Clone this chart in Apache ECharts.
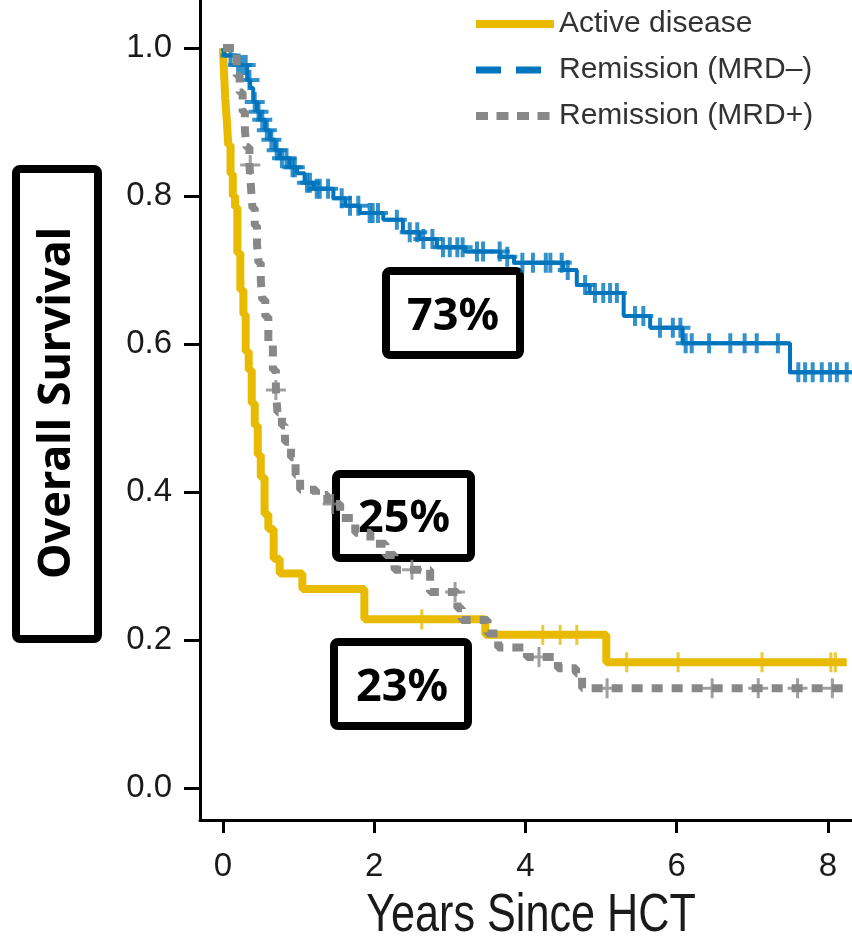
<!DOCTYPE html>
<html>
<head>
<meta charset="utf-8">
<title>Overall Survival by Disease Status</title>
<script src="https://cdn.jsdelivr.net/npm/echarts@6/dist/echarts.min.js"></script>
<style>
  html, body { margin: 0; padding: 0; background: #fff; }
  #chart { width: 852px; height: 943px; }
</style>
</head>
<body>
<div id="chart"></div>
<script>
// Kaplan–Meier step points: time (years) and survival at/after that time
const activeTimes = [0, 0.01, 0.03, 0.05, 0.07, 0.10, 0.13, 0.16, 0.19, 0.23, 0.27, 0.30, 0.34, 0.38, 0.42, 0.46, 0.50, 0.55, 0.60, 0.67, 0.75, 1.05, 1.87, 3.47, 5.07, 8.25];
const activeSurv  = [1.0, 0.975, 0.932, 0.903, 0.869, 0.83, 0.80, 0.785, 0.723, 0.673, 0.64, 0.59, 0.565, 0.52, 0.49, 0.45, 0.42, 0.37, 0.35, 0.31, 0.29, 0.269, 0.228, 0.207, 0.17, 0.17];
const activeCensor = [2.63, 4.23, 4.46, 4.68, 5.34, 6.02, 7.13, 8.04, 8.10];

const mrdNegTimes = [0, 0.02, 0.18, 0.32, 0.36, 0.40, 0.45, 0.49, 0.56, 0.62, 0.69, 0.75, 0.88, 0.98, 1.08, 1.20, 1.46, 1.62, 1.81, 2.12, 2.38, 2.60, 2.83, 3.20, 3.67, 3.85, 4.50, 4.68, 4.85, 5.30, 5.65, 6.08, 7.50, 8.32];
const mrdNegSurv  = [1.0, 0.99, 0.977, 0.957, 0.946, 0.927, 0.914, 0.903, 0.889, 0.876, 0.862, 0.851, 0.839, 0.831, 0.818, 0.81, 0.797, 0.787, 0.777, 0.768, 0.751, 0.742, 0.731, 0.725, 0.718, 0.71, 0.70, 0.68, 0.669, 0.638, 0.622, 0.601, 0.562, 0.562];
const mrdNegCensor = [0.10, 0.20, 0.25, 0.30, 0.35, 0.42, 0.47, 0.52, 0.58, 0.64, 0.71, 0.78, 0.84, 0.92, 0.95, 1.11, 1.15, 1.24, 1.28, 1.39, 1.57, 1.68, 1.79, 1.94, 1.98, 2.05, 2.30, 2.47, 2.57, 2.65, 2.77, 2.91, 3.00, 3.10, 3.17, 3.36, 3.44, 3.66, 3.76, 3.96, 4.10, 4.27, 4.33, 4.48, 4.56, 4.79, 4.92, 5.03, 5.12, 5.21, 5.45, 5.56, 5.78, 5.95, 6.05, 6.12, 6.20, 6.43, 6.71, 6.90, 7.06, 7.34, 7.61, 7.70, 7.80, 7.92, 8.03, 8.12, 8.25];

const mrdPosTimes = [0, 0.18, 0.22, 0.26, 0.29, 0.31, 0.35, 0.37, 0.39, 0.42, 0.45, 0.47, 0.50, 0.52, 0.56, 0.60, 0.66, 0.70, 0.72, 0.78, 0.82, 0.90, 0.96, 1.02, 1.23, 1.38, 1.55, 1.75, 1.95, 2.15, 2.27, 2.74, 3.10, 3.16, 3.50, 3.64, 4.02, 4.43, 4.67, 4.75, 8.20];
const mrdPosSurv  = [1.0, 0.963, 0.94, 0.914, 0.889, 0.866, 0.842, 0.812, 0.784, 0.76, 0.734, 0.71, 0.686, 0.66, 0.637, 0.60, 0.565, 0.538, 0.508, 0.49, 0.468, 0.447, 0.423, 0.403, 0.396, 0.384, 0.365, 0.345, 0.33, 0.315, 0.295, 0.265, 0.243, 0.227, 0.209, 0.19, 0.177, 0.162, 0.155, 0.135, 0.135];
const mrdPosCensor = [0.36, 0.70, 1.45, 2.50, 3.07, 4.18, 5.08, 6.47, 7.08, 7.60, 8.06];

const xTicks = [0, 2, 4, 6, 8];
const yTicks = [0, 0.2, 0.4, 0.6, 0.8, 1.0];

const seriesNames = ['Active disease', 'Remission (MRD\u2013)', 'Remission (MRD+)'];
const colors = ['#E8BB00', '#0075BE', '#888888'];
const boxLabels = ['73%', '25%', '23%'];
const xTitle = 'Years Since HCT';
const yTitle = 'Overall Survival';

function pairs(times, surv) {
  return times.map((t, i) => [t, surv[i]]);
}
// survival value of a step curve at time t
function survAt(times, surv, t) {
  let v = surv[0];
  for (let i = 0; i < times.length; i++) {
    if (times[i] <= t) v = surv[i]; else break;
  }
  return v;
}
function censorPoints(times, surv, cens) {
  return cens.map(t => [t, survAt(times, surv, t)]);
}

const plusThin = 'path://M8.5,0h3v20h-3zM0,8.5h20v3h-20z';
const plusBlue = 'path://M8,0h4v20h-4zM0,8h20v4h-20z';
const tickOnly = 'path://M0,0h3v20h-3z';

const chart = echarts.init(document.getElementById('chart'), null, { renderer: 'canvas' });

const axisFont = "'Liberation Sans', Arial, sans-serif";
const boldFont = "'Noto Sans', 'Open Sans', sans-serif";

function box(x, y, w, h, label, tx, ty) {
  return {
    type: 'group', z: 100,
    children: [
      { type: 'rect', shape: { x: x, y: y, width: w, height: h, r: 4 },
        style: { fill: '#fff', stroke: '#000', lineWidth: 8 } },
      { type: 'text', x: tx, y: ty,
        style: { text: label, fill: '#000', font: "bold 45px " + boldFont, textAlign: 'center', textVerticalAlign: 'middle' } }
    ]
  };
}

const hidden = { opacity: 0 };

const option = {
  animation: false,
  backgroundColor: '#fff',
  grid: { left: 200, right: 0, top: 0, bottom: 123, containLabel: false },
  legend: {
    orient: 'vertical', left: 472, top: 9, padding: 0,
    itemWidth: 78, itemHeight: 28, itemGap: 16,
    textStyle: { fontFamily: axisFont, fontSize: 30, color: '#333', lineHeight: 28 },
    data: [
      { name: seriesNames[0], itemStyle: hidden, lineStyle: { width: 8, type: 'solid', cap: 'butt' } },
      { name: seriesNames[1], itemStyle: hidden, lineStyle: { width: 7, type: [25, 15], cap: 'butt' } },
      { name: seriesNames[2], itemStyle: hidden, lineStyle: { width: 8, type: [12, 8.5], cap: 'butt' } }
    ]
  },
  xAxis: {
    type: 'value', min: -0.304, max: 8.32,
    axisLine: { show: true, onZero: false, lineStyle: { color: '#000', width: 3 } },
    axisTick: { show: true, customValues: xTicks, length: 13, lineStyle: { color: '#000', width: 3 } },
    axisLabel: { customValues: xTicks, fontFamily: axisFont, fontSize: 33, color: '#1a1a1a', margin: 30 },
    splitLine: { show: false }
  },
  yAxis: {
    type: 'value', min: -0.0432, max: 1.065,
    axisLine: { show: true, onZero: false, lineStyle: { color: '#000', width: 3 } },
    axisTick: { show: true, customValues: yTicks, length: 16, lineStyle: { color: '#000', width: 3 } },
    axisLabel: { customValues: yTicks, fontFamily: axisFont, fontSize: 33, color: '#1a1a1a', margin: 28,
                 formatter: v => v.toFixed(1) },
    splitLine: { show: false }
  },
  series: [
    { name: seriesNames[0], type: 'line', step: 'end', symbol: 'none', z: 2,
      data: pairs(activeTimes, activeSurv),
      lineStyle: { color: colors[0], width: 8, cap: 'butt' }, itemStyle: { color: colors[0] } },
    { name: seriesNames[1], type: 'line', step: 'end', symbol: 'none', z: 3,
      data: pairs(mrdNegTimes, mrdNegSurv),
      lineStyle: { color: colors[1], width: 4, cap: 'butt' }, itemStyle: { color: colors[1] } },
    { name: seriesNames[2], type: 'line', step: 'end', symbol: 'none', z: 4,
      data: pairs(mrdPosTimes, mrdPosSurv),
      lineStyle: { color: colors[2], width: 8, type: [11, 9], cap: 'butt' }, itemStyle: { color: colors[2] } },
    { name: 'active-censored', type: 'scatter', symbol: tickOnly, symbolSize: [3, 20], z: 2,
      data: censorPoints(activeTimes, activeSurv, activeCensor), itemStyle: { color: colors[0] } },
    { name: 'mrdneg-censored', type: 'scatter', symbol: plusBlue, symbolSize: 20, z: 3,
      data: censorPoints(mrdNegTimes, mrdNegSurv, mrdNegCensor), itemStyle: { color: colors[1] } },
    { name: 'mrdpos-censored', type: 'scatter', symbol: plusThin, symbolSize: 20, z: 4,
      data: censorPoints(mrdPosTimes, mrdPosSurv, mrdPosCensor), itemStyle: { color: colors[2] } }
  ],
  graphic: [
    // condensed x-axis title
    { type: 'text', x: 531, y: 916, scaleX: 0.8, z: 100,
      style: { text: xTitle, fill: '#1a1a1a', font: "54px " + axisFont, textAlign: 'center', textVerticalAlign: 'middle' } },
    {
      type: 'group', z: 100,
      children: [
        { type: 'rect', shape: { x: 16, y: 169, width: 82, height: 470, r: 4 },
          style: { fill: '#fff', stroke: '#000', lineWidth: 8 } },
        { type: 'text', x: 57, y: 403, rotation: Math.PI / 2,
          style: { text: yTitle, fill: '#000', font: "bold 45px " + boldFont,
                   textAlign: 'center', textVerticalAlign: 'middle' } }
      ]
    },
    box(386, 271, 134, 84, boxLabels[0], 453, 317),
    box(336, 474, 135, 84, boxLabels[1], 404, 519),
    box(334, 642, 134, 84, boxLabels[2], 402, 688)
  ]
};

chart.setOption(option);
</script>
</body>
</html>
